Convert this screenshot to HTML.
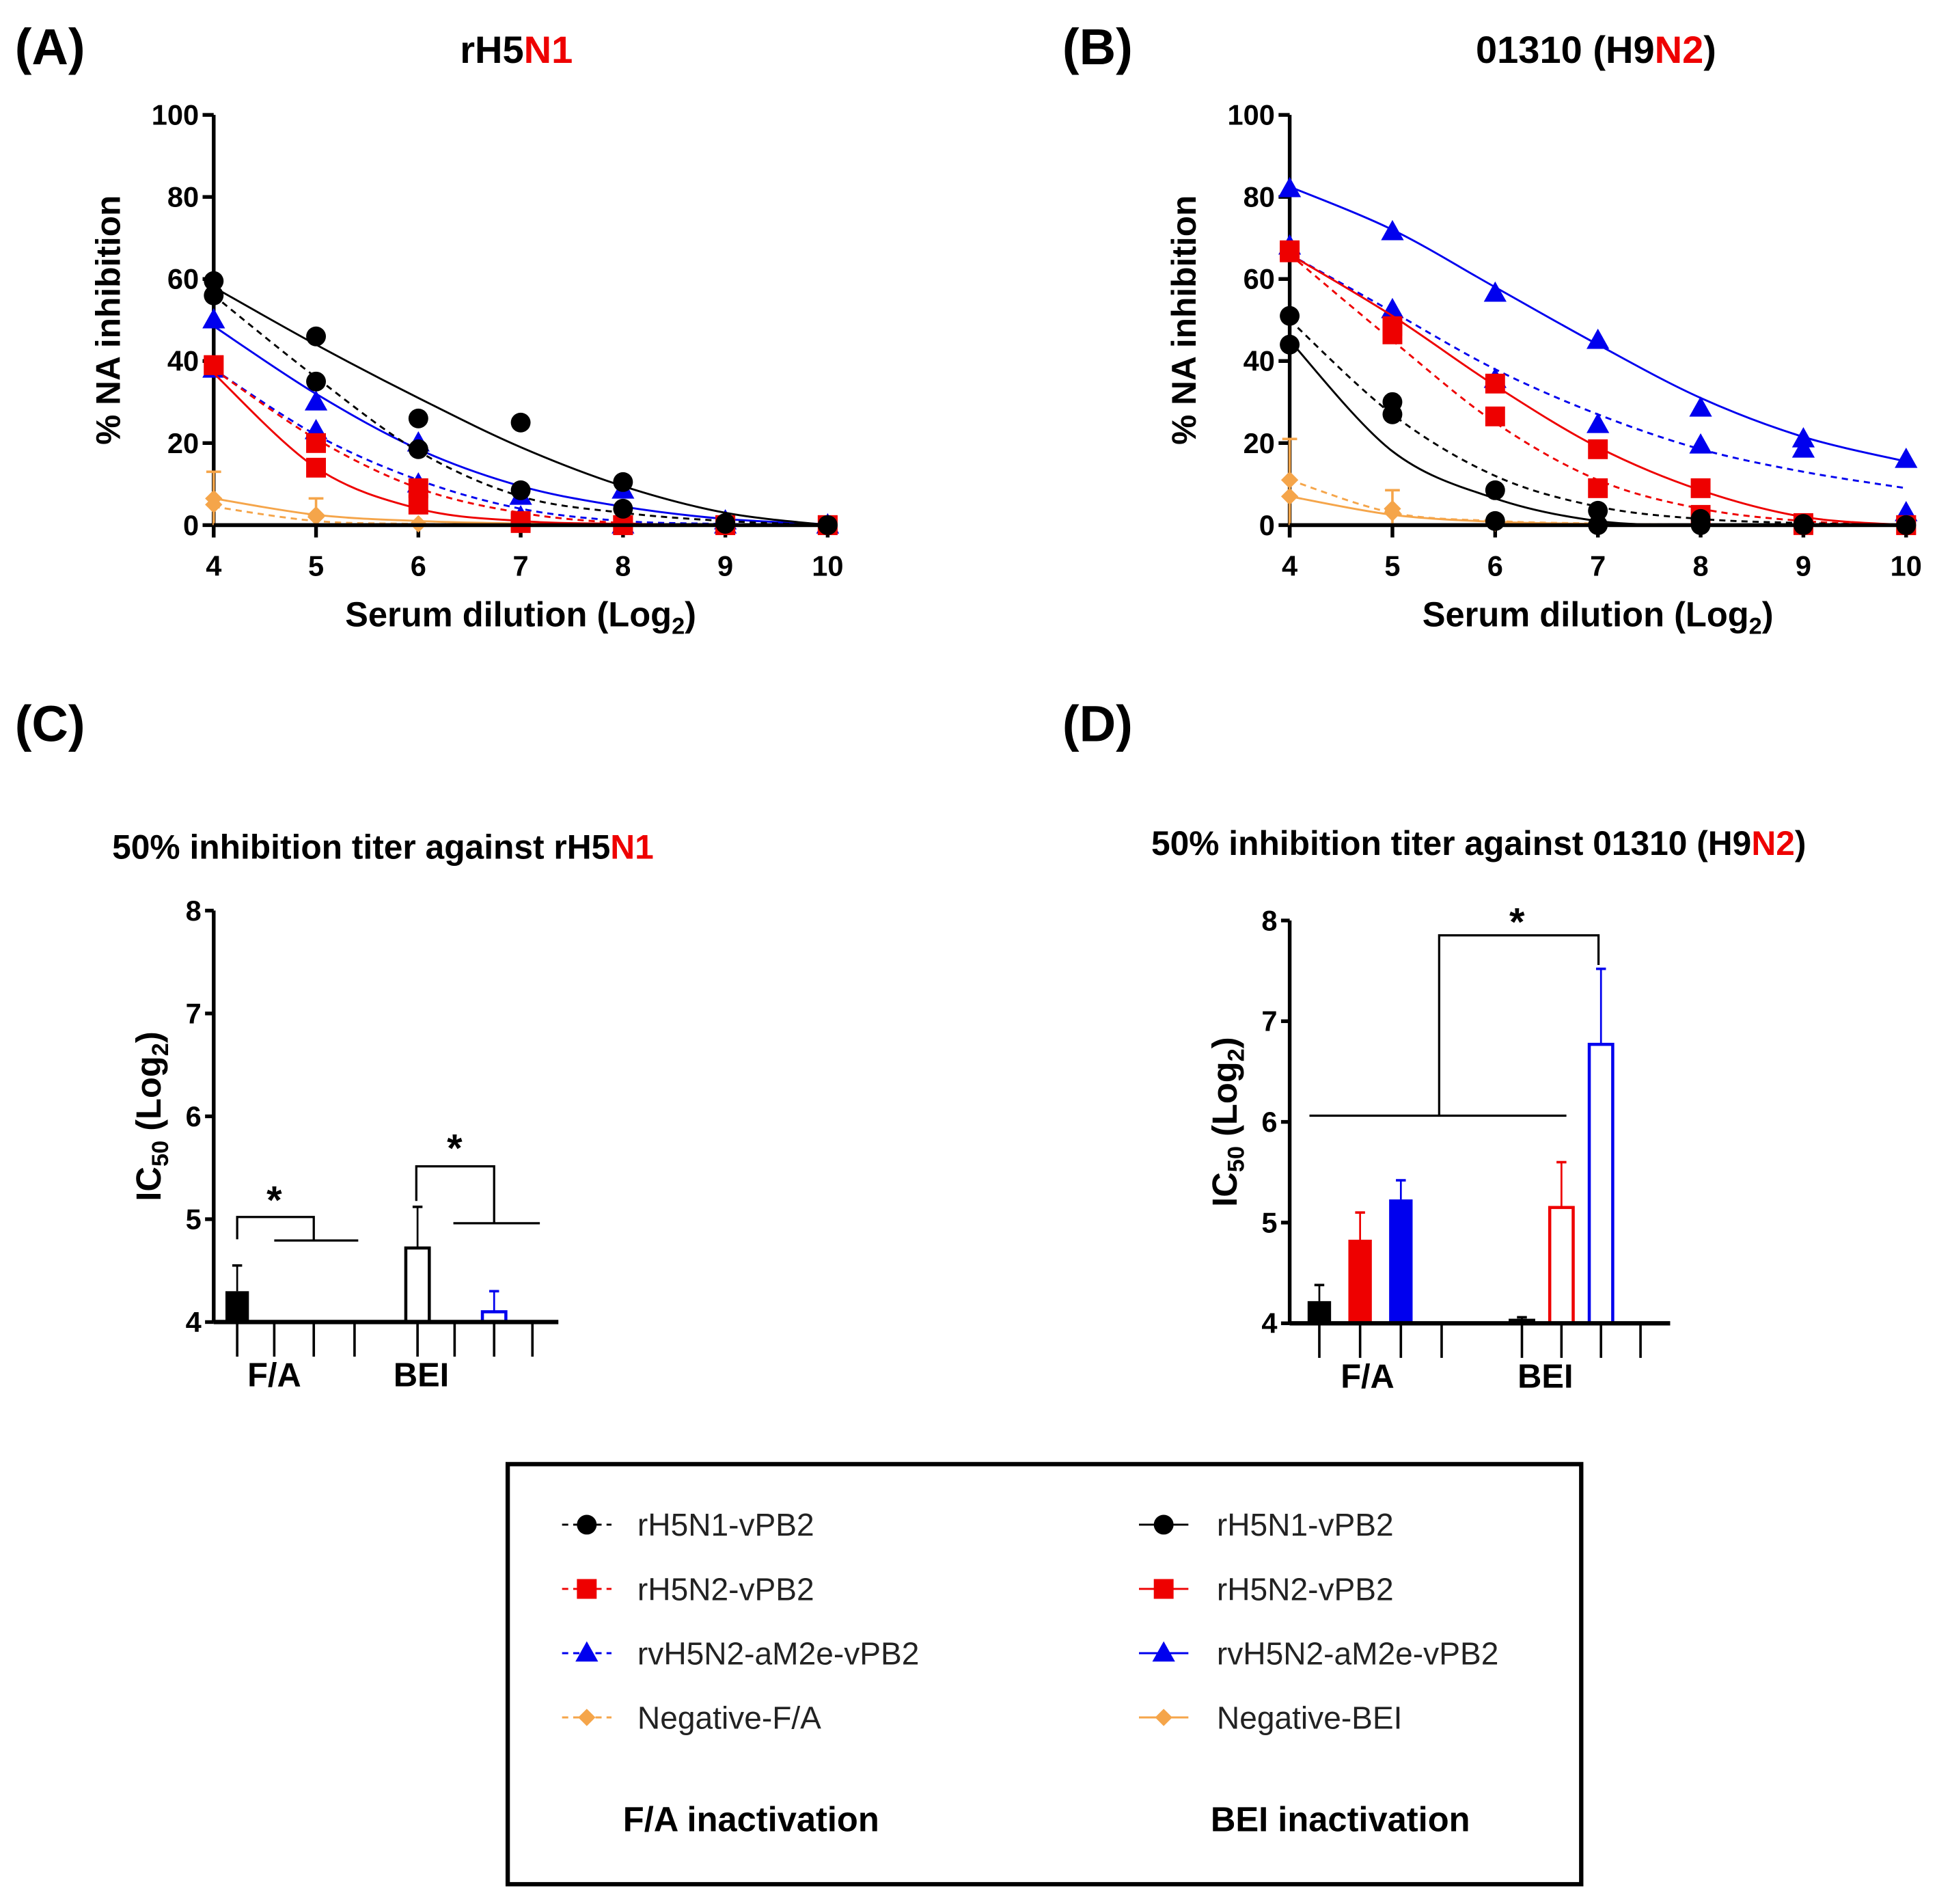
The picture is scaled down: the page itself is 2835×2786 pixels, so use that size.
<!DOCTYPE html>
<html><head><meta charset="utf-8">
<style>
html,body{margin:0;padding:0;background:#fff;}
svg{display:block;}
text{font-family:"Liberation Sans",Arial,sans-serif;}
</style></head>
<body>
<svg id="fig" width="2835" height="2786" viewBox="0 0 1568 1541" preserveAspectRatio="none" xmlns="http://www.w3.org/2000/svg">
<g id="static">
  <text x="12" y="52" font-size="41" font-weight="bold">(A)</text>
  <text x="418" y="51" font-size="31" font-weight="bold" text-anchor="middle">rH5<tspan fill="#e00">N1</tspan></text>
  <text x="860" y="52" font-size="41" font-weight="bold">(B)</text>
  <text x="1292" y="51" font-size="31" font-weight="bold" text-anchor="middle">01310 (H9<tspan fill="#e00">N2</tspan>)</text>
  <text x="12" y="600" font-size="41" font-weight="bold">(C)</text>
  <text x="860" y="600" font-size="41" font-weight="bold">(D)</text>
  <text x="310" y="695" font-size="27.5" font-weight="bold" text-anchor="middle">50% inhibition titer against rH5<tspan fill="#e00">N1</tspan></text>
  <text x="1197" y="692" font-size="27.5" font-weight="bold" text-anchor="middle">50% inhibition titer against 01310 (H9<tspan fill="#e00">N2</tspan>)</text>
</g>
<g id="charts"></g>
<g id="legend"></g>
</svg>
<script>
// ---------- Data ----------
const xDil = [4,5,6,7,8,9,10];
const xTicks = [4,5,6,7,8,9,10];
const yTicksA = [0,20,40,60,80,100];
const seriesNames = ['rH5N1-vPB2','rH5N2-vPB2','rvH5N2-aM2e-vPB2','Negative'];
const seriesColors = ['#000','#e00','#00e','#f5a54a'];

// Panel A points (F/A dashed, BEI solid)
const aFA_black = [56,35,18.5,8.5,4,0.3,0];
const aBEI_black = [59.5,46,26,25,10.5,0.5,0];
const aFA_red = [39,20,9,1,0,0,0];
const aBEI_red = [39,14,5,0.5,0,0,0];
const aFA_blue = [38,23,10,2,0,0,0];
const aBEI_blue = [50,30,20,7,8.5,1,0];
const aFA_neg = [5,2,0.3,0.2,0.1,0,0];
const aBEI_neg = [6.5,2.5,0.3,0.2,0.1,0,0];
// Panel A fitted curves
const aFit_FA_black = [56,36,18,7,3,1,0];
const aFit_BEI_black = [58,44,31,19,9.5,3,0];
const aFit_FA_red = [38,21,9,3,0.5,0,0];
const aFit_BEI_red = [37,14,4,1,0.3,0,0];
const aFit_FA_blue = [38,22,11,4,1,0.3,0];
const aFit_BEI_blue = [48.5,32,18.5,9.5,4.5,1.5,0.2];
const aFit_FA_neg = [4.5,1,0.3,0.1,0,0,0];
const aFit_BEI_neg = [6.5,2.5,1,0.4,0.2,0.1,0];
const aNegErr = [13,6.5,0,0,0,0,0];

// Panel B points
const bFA_black = [51,30,8.5,3.5,1.5,0.3,0];
const bBEI_black = [44,27,1,0,0,0,0];
const bFA_red = [66.5,46.5,26.5,9,2.5,0,0];
const bBEI_red = [67,48.5,34.5,18.5,9,0.5,0];
const bFA_blue = [68,52.5,35.5,24.5,19.5,18.5,3];
const bBEI_blue = [82,71.5,56.5,45,28.5,21,16];
const bFA_neg = [11,3,0.5,0.2,0.1,0,0];
const bBEI_neg = [7,4,0.8,0.3,0.1,0,0];
const bFit_FA_black = [50,27,12,4.5,1.5,0.5,0];
const bFit_BEI_black = [45,18,6.5,1,0,0,0];
const bFit_FA_red = [66,45,25,11,4,1,0];
const bFit_BEI_red = [66,51,34,19,8.5,2,0];
const bFit_FA_blue = [66,52,38,27,18.5,13,9];
const bFit_BEI_blue = [82.5,72,58,44,31,21.5,15.5];
const bFit_FA_neg = [11,3,1,0.4,0.1,0,0];
const bFit_BEI_neg = [7,2.5,0.8,0.3,0.1,0,0];
const bNegErr = [21,8.5,0,0,0,0,0];

// Bar panels (IC50 Log2): order per group: black, red, blue, negative
const barGroups = ['F/A','BEI'];
const yTicksBar = [4,5,6,7,8];
const cMeans_FA = [4.3,4,4,4];
const cErr_FA = [4.55,4,4,4];
const cMeans_BEI = [4.72,4,4.1,4];
const cErr_BEI = [5.12,4,4.3,4];
const dMeans_FA = [4.22,4.83,5.23,4];
const dErr_FA = [4.38,5.1,5.42,4];
const dMeans_BEI = [4.03,5.15,6.77,4];
const dErr_BEI = [4.06,5.6,7.52,4];

// ---------- helpers ----------
const NS='http://www.w3.org/2000/svg';
const root=document.getElementById('charts');
function mk(tag,attrs,parent){const e=document.createElementNS(NS,tag);for(const k in attrs)e.setAttribute(k,attrs[k]);(parent||root).appendChild(e);return e;}
function txt(x,y,s,size,opts,parent){const t=mk('text',Object.assign({x:x,y:y,'font-size':size},opts||{}),parent);t.textContent=s;return t;}

function marker(g,kind,cx,cy,color,s){
  let e;
  if(kind===0){e=mk('circle',{cx:cx,cy:cy,r:s,fill:color},g);}
  else if(kind===1){e=mk('rect',{x:cx-s,y:cy-s,width:2*s,height:2*s,fill:color},g);}
  else if(kind===2){e=mk('polygon',{points:`${cx},${cy-s*1.2} ${cx-s*1.15},${cy+s*0.85} ${cx+s*1.15},${cy+s*0.85}`,fill:color},g);}
  else {e=mk('polygon',{points:`${cx},${cy-s} ${cx+s},${cy} ${cx},${cy+s} ${cx-s},${cy}`,fill:color},g);}
  
  
  return e;
}
function spline(pts){
  let d=`M${pts[0][0]},${pts[0][1]}`;
  for(let i=0;i<pts.length-1;i++){
    const p0=pts[Math.max(0,i-1)],p1=pts[i],p2=pts[i+1],p3=pts[Math.min(pts.length-1,i+2)];
    const c1=[p1[0]+(p2[0]-p0[0])/6,p1[1]+(p2[1]-p0[1])/6];
    const c2=[p2[0]-(p3[0]-p1[0])/6,p2[1]-(p3[1]-p1[1])/6];
    d+=` C${c1[0]},${c1[1]} ${c2[0]},${c2[1]} ${p2[0]},${p2[1]}`;
  }
  return d;
}

// ---------- line panels ----------
function linePanel(name,ax0,ax1,yTop,yBot,fa,bei,fitFA,fitBEI,negErr){
  const g=mk('g',{});
  
  
  const X=v=>ax0+(v-4)/(10-4)*(ax1-ax0);
  const Y=v=>yBot-(v/100)*(yBot-yTop);
  const ya=mk('line',{x1:ax0,y1:yTop,x2:ax0,y2:yBot+10,stroke:'#000','stroke-width':3},g);
  
  yTicksA.forEach(v=>{
    mk('line',{x1:ax0-9,y1:Y(v),x2:ax0,y2:Y(v),stroke:'#000','stroke-width':3},g);
    const t=txt(ax0-12,Y(v)+8,String(v),23,{'font-weight':'bold','text-anchor':'end'},g);
    
  });
  const xa=mk('line',{x1:ax0,y1:yBot,x2:ax1,y2:yBot,stroke:'#000','stroke-width':3},g);
  
  xTicks.forEach(v=>{
    mk('line',{x1:X(v),y1:yBot,x2:X(v),y2:yBot+10,stroke:'#000','stroke-width':3},g);
    const t=txt(X(v),yBot+41,String(v),23,{'font-weight':'bold','text-anchor':'middle'},g);
    
  });
  const yt=txt(0,0,'% NA inhibition',27.5,{'font-weight':'bold','text-anchor':'middle',transform:`translate(${ax0-76},${(yTop+yBot)/2}) rotate(-90)`},g);
  
  const xt=txt((ax0+ax1)/2,yBot+82,'Serum dilution (Log',28,{'font-weight':'bold','text-anchor':'middle'},g);
  const sub=mk('tspan',{'font-size':19,dy:6},xt);sub.textContent='2';
  const cl=mk('tspan',{dy:-6},xt);cl.textContent=')';
  
  negErr.forEach((e,i)=>{ if(e>0){
    mk('line',{x1:X(xDil[i]),y1:Y(e),x2:X(xDil[i]),y2:Y(0),stroke:'#f5a54a','stroke-width':2},g);
    mk('line',{x1:X(xDil[i])-6,y1:Y(e),x2:X(xDil[i])+6,y2:Y(e),stroke:'#f5a54a','stroke-width':2},g);
  }});
  [3,2,1,0].forEach(k=>{
    [[fitFA[k],fa[k],'5,4'],[fitBEI[k],bei[k],null]].forEach(([fit,pts,dash])=>{
      const p=mk('path',{d:spline(xDil.map((x,i)=>[X(x),Y(fit[i])])),fill:'none',stroke:seriesColors[k],'stroke-width':1.6},g);
      if(dash)p.setAttribute('stroke-dasharray',dash);
      
      pts.forEach((v,i)=>marker(g,k,X(xDil[i]),Y(v),seriesColors[k],k===3?7:8));
    });
  });
  mk('line',{x1:ax0,y1:yBot,x2:ax1,y2:yBot,stroke:'#000','stroke-width':3},g);
}
linePanel('panel-a-chart',173,670,93,425,
  [aFA_black,aFA_red,aFA_blue,aFA_neg],[aBEI_black,aBEI_red,aBEI_blue,aBEI_neg],
  [aFit_FA_black,aFit_FA_red,aFit_FA_blue,aFit_FA_neg],[aFit_BEI_black,aFit_BEI_red,aFit_BEI_blue,aFit_BEI_neg],aNegErr);
linePanel('panel-b-chart',1044,1543,93,425,
  [bFA_black,bFA_red,bFA_blue,bFA_neg],[bBEI_black,bBEI_red,bBEI_blue,bBEI_neg],
  [bFit_FA_black,bFit_FA_red,bFit_FA_blue,bFit_FA_neg],[bFit_BEI_black,bFit_BEI_red,bFit_BEI_blue,bFit_BEI_neg],bNegErr);

// ---------- bar panels ----------
function barPanel(name,ax0,ax1,yTop,yBot,tickXs,means,errs,sig,labelXs){
  const g=mk('g',{});
  
  
  const Y=v=>yBot-(v-4)/4*(yBot-yTop);
  mk('line',{x1:ax0,y1:yTop,x2:ax0,y2:yBot,stroke:'#000','stroke-width':3},g);
  yTicksBar.forEach(v=>{
    mk('line',{x1:ax0-7,y1:Y(v),x2:ax0,y2:Y(v),stroke:'#000','stroke-width':3},g);
    const t=txt(ax0-10,Y(v)+8,String(v),23,{'font-weight':'bold','text-anchor':'end'},g);
    
  });
  const yt=txt(0,0,'IC',28,{'font-weight':'bold','text-anchor':'middle',transform:`translate(${ax0-43},${(yTop+yBot)/2}) rotate(-90)`},g);
  const s1=mk('tspan',{'font-size':19,dy:6},yt);s1.textContent='50';
  const s2=mk('tspan',{dy:-6},yt);s2.textContent=' (Log';
  const s3=mk('tspan',{'font-size':19,dy:6},yt);s3.textContent='2';
  const s4=mk('tspan',{dy:-6},yt);s4.textContent=')';
  
  const bw=19;
  means.forEach((grp,gi)=>{
    grp.forEach((m,k)=>{
      const cx=tickXs[gi*4+k];
      mk('line',{x1:cx,y1:yBot,x2:cx,y2:yBot+28,stroke:'#000','stroke-width':2},g);
      if(k<3 && m>4){
        const e=errs[gi][k];
        if(e>m){
          mk('line',{x1:cx,y1:Y(e),x2:cx,y2:Y(m),stroke:seriesColors[k],'stroke-width':1.5},g);
          mk('line',{x1:cx-4,y1:Y(e),x2:cx+4,y2:Y(e),stroke:seriesColors[k],'stroke-width':2},g);
        }
        const filled=gi===0;
        const r=mk('rect',{x:cx-bw/2,y:Y(m),width:bw,height:Y(4)-Y(m),fill:filled?seriesColors[k]:'#fff',stroke:seriesColors[k],'stroke-width':filled?0:2.5},g);
        
        
      }
    });
    const t=txt(labelXs[gi],yBot+52,barGroups[gi],27,{'font-weight':'bold','text-anchor':'middle'},g);
    
  });
  mk('line',{x1:ax0,y1:yBot,x2:ax1,y2:yBot,stroke:'#000','stroke-width':3.5},g);
  sig.forEach(s=>{
    const p=mk('path',{d:s.d,fill:'none',stroke:'#000','stroke-width':1.8},g);
    
    const st=txt(s.sx,s.sy,'*',32,{'font-weight':'bold','text-anchor':'middle'},g);
    
  });
}
barPanel('panel-c-chart',173,452,737,1070,[192,222,254,287,338,368,400,431],
  [cMeans_FA,cMeans_BEI],[cErr_FA,cErr_BEI],
  [{d:'M192,1003 V985 H254 V1004 M222,1004 H290',sx:222,sy:982},
   {d:'M337,972 V944 H400 V990 M367,990 H437',sx:368,sy:940}],[222,341]);
barPanel('panel-d-chart',1044,1352,745,1071,[1068,1101,1134,1167,1232,1264,1296,1328],
  [dMeans_FA,dMeans_BEI],[dErr_FA,dErr_BEI],
  [{d:'M1060,903 H1268 M1165,903 V757 H1294 V781',sx:1228,sy:757}],[1107,1251]);

// ---------- legend ----------
const lg=document.getElementById('legend');
const box=mk('rect',{x:411,y:1185,width:869,height:340,fill:'#fff',stroke:'#000','stroke-width':3.5},lg);

const rowsY=[1234,1286,1338,1390];
const legNeg=['Negative-F/A','Negative-BEI'];
[[455,516,'5,4'],[922,985,null]].forEach(([lx,tx,dash],ci)=>{
  rowsY.forEach((y,k)=>{
    const eg=mk('g',{},lg);
    
    
    const l=mk('line',{x1:lx,y1:y,x2:lx+40,y2:y,stroke:seriesColors[k],'stroke-width':1.6},eg);
    if(dash)l.setAttribute('stroke-dasharray',dash);
    marker(eg,k,lx+20,y,seriesColors[k],k===3?7:8);
    txt(tx,y+9,k===3?legNeg[ci]:seriesNames[k],25.5,{fill:'#222'},eg);
  });
});
const h1=txt(608,1482,'F/A inactivation',28,{'font-weight':'bold','text-anchor':'middle'},lg);

const h2=txt(1085,1482,'BEI inactivation',28,{'font-weight':'bold','text-anchor':'middle'},lg);

</script>
</body></html>
